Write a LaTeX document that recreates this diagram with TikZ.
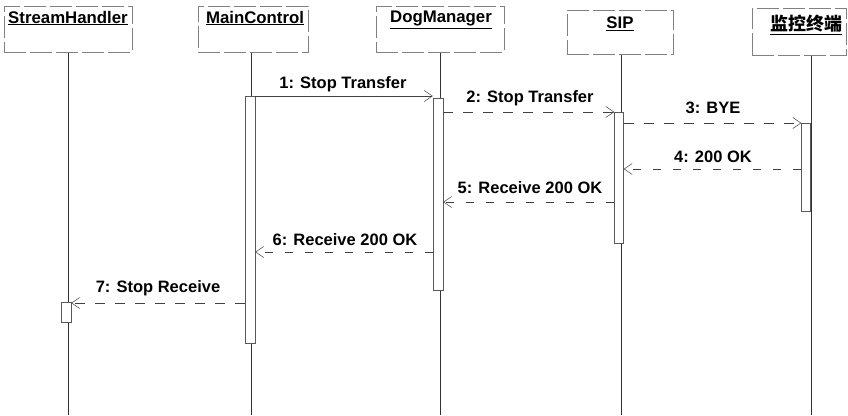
\documentclass[tikz,border=0pt]{standalone}
\usepackage{fontspec}
\setmainfont{Liberation Sans}
\newfontfamily\cjk{Noto Sans CJK SC Bold}
\usetikzlibrary{arrows.meta}
\begin{document}
\begin{tikzpicture}[x=1pt,y=-1pt,
  objbox/.style={draw=black!50, line width=0.5pt, dash pattern=on 22pt off 4pt, minimum height=46pt, inner sep=0pt, anchor=north},
  objname/.style={font=\bfseries\fontsize{16.8}{18}\selectfont, inner sep=0pt},
  lbl/.style={font=\bfseries\fontsize{16.5}{18}\selectfont, inner sep=0pt},
  life/.style={draw=black!80, line width=0.6pt},
  act/.style={draw=black!65, fill=white, line width=0.5pt, minimum width=9pt, inner sep=0pt, anchor=north},
  msg/.style={draw=black!75, line width=0.5pt, -{Straight Barb[length=8pt,width=11pt]}},
  ret/.style={msg, dash pattern=on 8pt off 12pt}]
\useasboundingbox (0,0) rectangle (848,415);
% object boxes
\node[objbox, minimum width=128pt] (sh) at (68,6) {};
\node[objbox, minimum width=110pt] (mc) at (253,6) {};
\node[objbox, minimum width=128pt] (dm) at (440,6) {};
\node[objbox, minimum width=106pt, minimum height=44pt] (sip) at (620,10) {};
\node[objbox, minimum width=94pt, minimum height=47pt] (jk) at (799,8) {};
\node[objname] (shn) at (68,18) {\underline{StreamHandler}};
\node[objname] (mcn) at (255,18) {\underline{MainControl}};
\node[objname] (dmn) at (441,20) {\underline{DogManager}};
\node[objname] (sipn) at (620,24) {\underline{SIP}};
\node[objname] (jkn) at (806,25) {\cjk\fontsize{18}{20}\selectfont\underline{监控终端}};
% lifeline ends
\coordinate (shl) at (68,415);
\coordinate (mcl) at (251,415);
\coordinate (dml) at (440,415);
\coordinate (sipl) at (621,415);
\coordinate (jkl) at (811,415);
\draw[life] (sh.south -| shl) -- (shl);
\draw[life] (mc.south -| mcl) -- (mcl);
\draw[life] (dm.south -| dml) -- (dml);
\draw[life] (sip.south -| sipl) -- (sipl);
\draw[life] (jk.south -| jkl) -- (jkl);
% activation bars
\node[act, minimum width=10pt, minimum height=20pt] (shb) at (66,302) {};
\node[act, minimum width=10pt, minimum height=247pt] (mcb) at (250,96) {};
\node[act, minimum width=10pt, minimum height=192pt] (dmb) at (438,98) {};
\node[act, minimum height=131pt] (sipb) at (619,112) {};
\node[act, minimum height=88pt] (jkb) at (806,123) {};
% message rows
\coordinate (y1) at (0,96);
\coordinate (y2) at (0,112);
\coordinate (y3) at (0,123);
\coordinate (y4) at (0,169);
\coordinate (y5) at (0,202);
\coordinate (y6) at (0,252);
\coordinate (y7) at (0,303);
\draw[msg] (mcb.east |- y1) -- (dmb.west |- y1);
\draw[msg, dash pattern=on 10pt off 10pt] (dmb.east |- y2) -- (sipb.west |- y2);
\draw[msg, dash pattern=on 10pt off 10pt] (sipb.east |- y3) -- (jkb.west |- y3);
\draw[ret] (jkb.west |- y4) -- (sipb.east |- y4);
\draw[ret] (sipb.west |- y5) -- (dmb.east |- y5);
\draw[ret] (dmb.west |- y6) -- (mcb.east |- y6);
\draw[msg, dash pattern=on 10pt off 10pt] (mcb.west |- y7) -- (shb.east |- y7);
% labels
\node[lbl] (l1) at (343,84) {1: Stop Transfer};
\node[lbl] (l2) at (530,98) {2: Stop Transfer};
\node[lbl] (l3) at (713,108) {3: BYE};
\node[lbl] (l4) at (713,157) {4: 200 OK};
\node[lbl] (l5) at (530,188) {5: Receive 200 OK};
\node[lbl] (l6) at (345,240) {6: Receive 200 OK};
\node[lbl] (l7) at (158,288) {7: Stop Receive};
\end{tikzpicture}
\end{document}
